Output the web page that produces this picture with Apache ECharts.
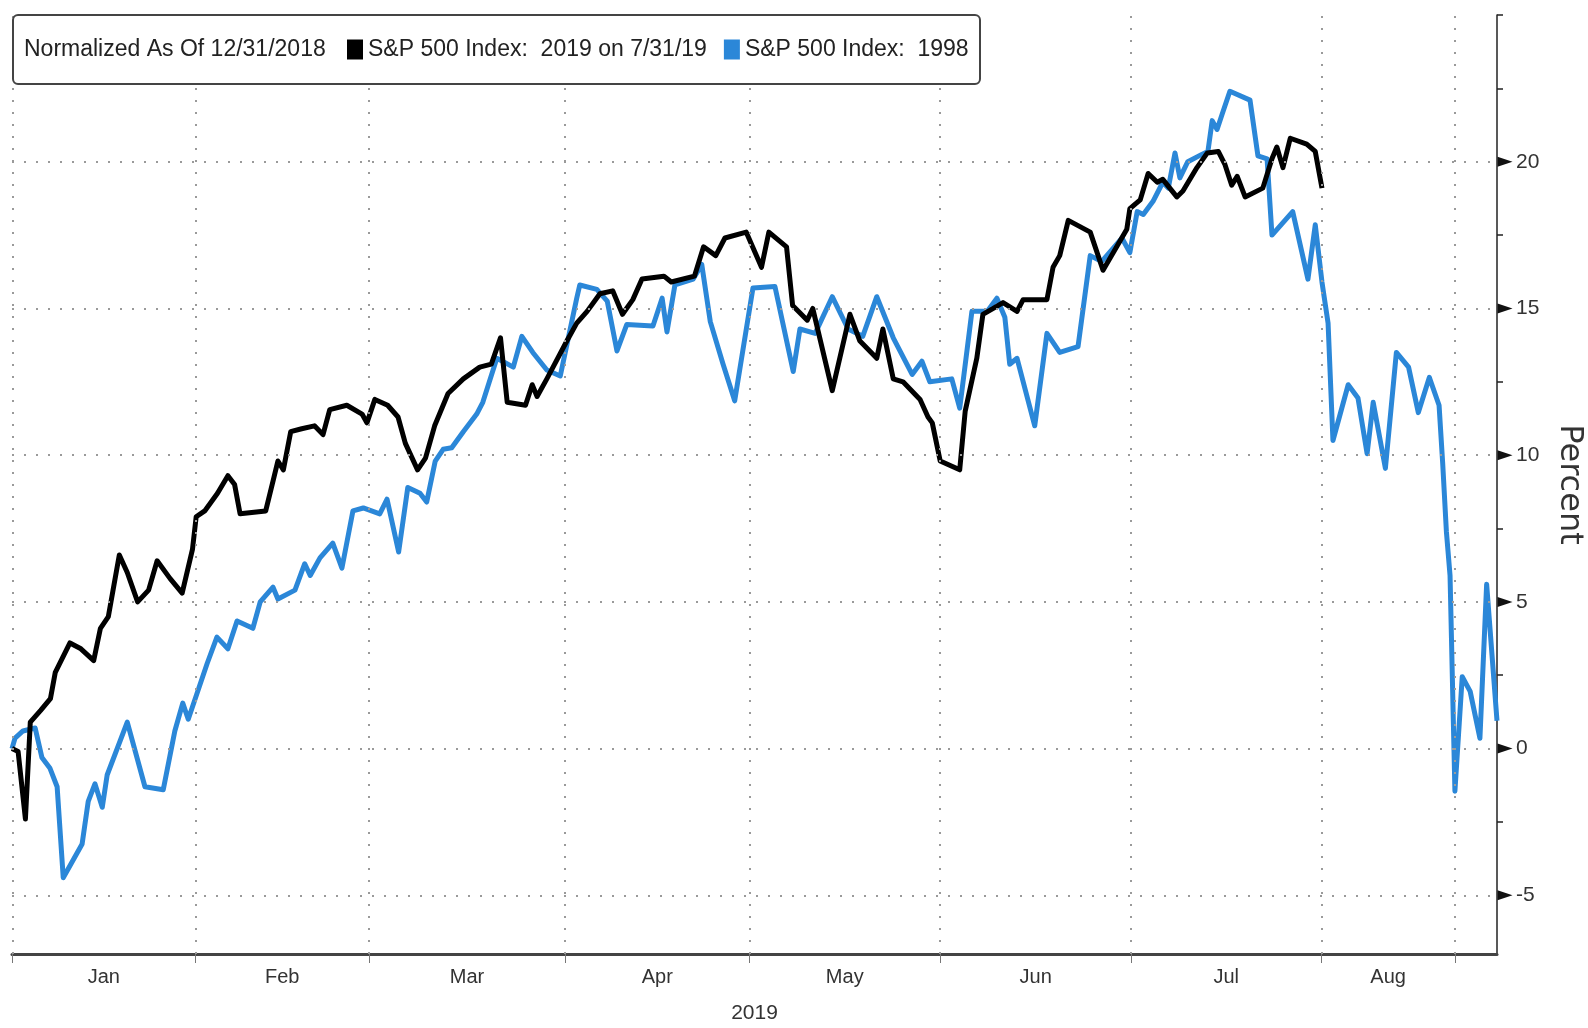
<!DOCTYPE html>
<html><head><meta charset="utf-8">
<script src="https://cdn.jsdelivr.net/npm/echarts@6.0.0/dist/echarts.min.js"></script>
<style>html,body{margin:0;padding:0;background:#fff}#c{width:1588px;height:1028px}</style>
</head><body><div id="c"></div>
<script>
const monthLabels = ['Jan','Feb','Mar','Apr','May','Jun','Jul','Aug'];
const monthStarts = [0, 30.1, 58.5, 90.7, 120.9, 152.2, 183.5, 214.7, 236.6];
const yMajorTicks = [-5, 0, 5, 10, 15, 20];
const yMinorTicks = [-2.5, 2.5, 7.5, 12.5, 17.5, 22.5, 25];
const seriesNames = ['S&P 500 Index:  2019 on 7/31/19', 'S&P 500 Index:  1998'];

const days2019 = [0,1.0,2.2,3.0,4.7,6.3,7.1,9.5,11.3,13.4,14.5,15.8,17.6,18.9,20.6,22.4,23.8,25.9,27.9,29.6,30.2,31.6,33.7,35.4,36.5,37.4,41.6,42.9,43.6,44.5,45.7,47.5,49.6,51.0,52.1,54.9,57.4,58.2,59.5,61.6,63.3,64.5,66.5,67.8,69.3,71.5,74.0,76.7,78.6,80.1,81.2,84.2,85.3,86.1,87.7,91.0,92.6,94.3,96.4,98.5,100.1,101.8,103.3,106.9,108.1,111.9,113.4,115.4,116.9,120.4,122.9,124.1,127.0,128.0,130.4,131.3,134.5,137.4,139.0,141.8,142.8,144.5,146.1,148.9,150.2,150.9,152.2,155.4,156.3,158.2,159.2,160.9,162.5,164.8,165.8,169.7,170.7,171.8,173.2,176.8,178.9,182.8,183.3,185.0,186.3,187.8,188.7,191.0,192.0,194.3,196.0,197.8,198.9,200.0,200.9,202.2,205.1,206.6,207.4,208.4,209.6,212.3,213.7,214.8];
const pct2019 = [0,-0.1,-2.4,0.9,1.3,1.7,2.6,3.6,3.4,3.0,4.1,4.5,6.6,6.0,5.0,5.4,6.4,5.8,5.3,6.8,7.9,8.1,8.7,9.3,9.0,8.0,8.1,9.2,9.8,9.5,10.8,10.9,11.0,10.7,11.55,11.7,11.4,11.1,11.9,11.7,11.3,10.4,9.5,9.9,11.0,12.1,12.6,13.0,13.1,14.0,11.8,11.7,12.4,12.0,12.6,13.9,14.5,14.9,15.5,15.6,14.8,15.3,16.0,16.1,15.9,16.1,17.1,16.8,17.4,17.6,16.4,17.6,17.1,15.1,14.6,15.0,12.2,14.8,13.9,13.3,14.3,12.6,12.5,11.9,11.3,11.1,9.8,9.5,11.5,13.3,14.8,15.0,15.2,14.9,15.3,15.3,16.4,16.8,18.0,17.6,16.3,17.7,18.4,18.7,19.6,19.3,19.4,18.8,19.0,19.8,20.3,20.35,19.9,19.2,19.5,18.8,19.1,20.1,20.5,19.8,20.8,20.6,20.35,19.1];

const days1998 = [0,0.5,1.8,3.8,4.9,6.2,7.4,8.4,11.5,12.5,13.6,14.8,15.6,18.9,21.8,24.8,26.7,28.0,28.9,32.0,33.6,35.4,36.9,39.5,40.7,42.8,43.6,46.4,48.0,48.9,50.5,52.6,54.1,55.9,57.6,60.3,61.5,63.4,64.9,66.9,68.0,69.4,70.7,72.1,74.0,76.2,77.2,79.5,82.2,83.6,85.4,87.7,89.9,92.6,93.1,95.9,97.6,99.2,100.8,105.1,106.6,107.4,108.7,111.7,113.1,114.5,116.6,118.5,121.5,125.1,128.1,129.2,131.7,134.5,137.1,139.5,141.8,144.5,147.6,149.2,150.5,154.1,155.4,157.4,159.9,161.5,162.8,163.6,164.8,167.7,169.7,171.8,174.8,176.8,178.7,182.0,183.3,184.5,185.5,187.1,188.7,189.6,190.7,191.5,192.8,195.1,196.1,196.8,197.6,198.4,199.7,203.0,204.3,205.8,206.6,210.0,212.5,213.7,214.8,215.8,216.6,219.1,220.7,222.2,223.2,225.2,227.0,229.0,230.6,232.4,234.0,234.6,235.2,235.8,236.6,237.8,239.1,240.7,241.8,243.5];
const pct1998 = [0,0.36,0.6,0.7,-0.3,-0.66,-1.3,-4.4,-3.25,-1.8,-1.2,-2.0,-0.9,0.9,-1.3,-1.4,0.6,1.55,1.0,2.9,3.8,3.4,4.35,4.1,5.0,5.5,5.1,5.4,6.3,5.9,6.5,7.0,6.15,8.1,8.2,8.0,8.5,6.7,8.9,8.7,8.4,9.8,10.2,10.25,10.8,11.4,11.8,13.3,13.0,14.05,13.5,12.9,12.7,15.35,15.8,15.65,15.25,13.55,14.45,14.4,15.35,14.2,15.8,16.0,16.5,14.55,13.1,11.85,15.7,15.75,12.85,14.3,14.15,15.4,14.3,14.05,15.4,14.0,12.75,13.2,12.5,12.6,11.6,14.9,14.9,15.35,14.7,13.1,13.3,11.0,14.15,13.5,13.7,16.8,16.6,17.4,16.9,18.3,18.2,18.65,19.3,19.1,20.3,19.45,20.0,20.25,20.35,21.4,21.1,21.6,22.4,22.1,20.2,20.1,17.5,18.3,16.0,17.85,15.9,14.5,10.5,12.4,11.95,10.05,11.8,9.55,13.5,13.0,11.45,12.65,11.7,9.7,7.4,5.9,-1.45,2.45,1.95,0.35,5.6,0.95];

const X_MAX = 243.5, Y_MIN = -7, Y_MAX = 25;
const SANS = '"Liberation Sans", Arial, sans-serif';
const BLUE = '#2b87d8';
const mids = monthLabels.map((m, i) => (monthStarts[i] + monthStarts[i + 1]) / 2);

const chart = echarts.init(document.getElementById('c'));
chart.setOption({
  animation: false,
  backgroundColor: '#fff',
  grid: { left: 12, right: 91, top: 15, bottom: 74, containLabel: false, outerBoundsMode: 'none' },
  title: {
    text: 'Normalized As Of 12/31/2018', left: 24, top: 38, padding: 0, z: 21,
    textStyle: { fontFamily: SANS, fontSize: 23, fontWeight: 'normal', color: '#222' }
  },
  legend: {
    left: 347, top: 38, padding: 0, z: 20, selectedMode: false,
    itemWidth: 16, itemHeight: 20, itemGap: 17, itemTextGap: 4, icon: 'rect',
    textStyle: { fontFamily: SANS, fontSize: 23, color: '#222' },
    data: seriesNames
  },
  graphic: [{
    type: 'rect', left: 12, top: 14, z: 19,
    shape: { width: 967, height: 69, r: 5 },
    style: { fill: '#fff', stroke: '#444', lineWidth: 2 }
  }],
  xAxis: {
    type: 'value', min: 0, max: X_MAX,
    axisLine: { show: true, onZero: false, lineStyle: { color: '#444', width: 3 } },
    axisTick: { show: true, customValues: monthStarts, length: 9, lineStyle: { color: '#777', width: 1 } },
    axisLabel: {
      customValues: mids, margin: 13, fontFamily: SANS, fontSize: 20, color: '#333',
      formatter: v => { const i = mids.findIndex(m => Math.abs(m - v) < 1e-6); return i >= 0 ? monthLabels[i] : ''; }
    },
    splitLine: { show: false },
    name: '2019', nameLocation: 'middle', nameGap: 49,
    nameTextStyle: { fontFamily: SANS, fontSize: 21, color: '#333' }
  },
  yAxis: {
    type: 'value', position: 'right', min: Y_MIN, max: Y_MAX,
    axisLine: { show: true, onZero: false, lineStyle: { color: '#222', width: 1.5 } },
    axisTick: { show: true, customValues: yMinorTicks, length: 6, lineStyle: { color: '#222', width: 1.5 } },
    axisLabel: { customValues: yMajorTicks, margin: 19, fontFamily: SANS, fontSize: 21, color: '#333' },
    splitLine: { show: false },
    name: 'Percent', nameLocation: 'middle', nameRotate: -90, nameGap: 56,
    nameTextStyle: { fontFamily: '"DejaVu Sans", sans-serif', fontSize: 32, color: '#333' }
  },
  series: [{
    type: 'line', name: 'grid', data: [], silent: true, z: 1,
    markLine: {
      silent: true, symbol: ['none', 'none'], label: { show: false }, animation: false,
      lineStyle: { color: '#9a9a9a', width: 2, type: [2, 10] },
      data: [...yMajorTicks.map(v => ({ yAxis: v })), ...monthStarts.slice(1).map(v => ({ xAxis: v })), { xAxis: 0.15 }]
    },
    markPoint: {
      silent: true, animation: false, symbol: 'triangle', symbolSize: [10, 15], symbolRotate: -90,
      symbolOffset: [8, 0], label: { show: false }, itemStyle: { color: '#111' },
      data: yMajorTicks.map(v => ({ coord: [X_MAX, v] }))
    }
  }, {
    type: 'line', name: seriesNames[0], data: days2019.map((d, i) => [d, pct2019[i]]),
    showSymbol: false, symbol: 'none', z: 3, color: '#000',
    lineStyle: { color: '#000', width: 5, join: 'round' }
  }, {
    type: 'line', name: seriesNames[1], data: days1998.map((d, i) => [d, pct1998[i]]),
    showSymbol: false, symbol: 'none', z: 2, color: BLUE,
    lineStyle: { color: BLUE, width: 5, join: 'round' }
  }]
});
</script></body></html>
